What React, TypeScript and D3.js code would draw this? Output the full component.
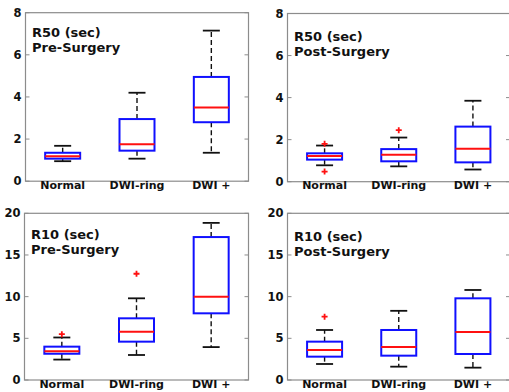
import * as d3 from 'd3';

// categories shared by every panel
const categories = ['Normal', 'DWI-ring', 'DWI +'];

// box stats per category: [lower whisker, Q1, median, Q3, upper whisker]
const r50PreStats = [
  [0.95, 1.07, 1.18, 1.35, 1.68],
  [1.07, 1.45, 1.75, 2.95, 4.2],
  [1.35, 2.8, 3.5, 4.95, 7.15],
];
const r50PreOutliers = [[], [], []];

const r50PostStats = [
  [0.78, 1.05, 1.22, 1.35, 1.72],
  [0.73, 0.97, 1.28, 1.55, 2.1],
  [0.58, 0.92, 1.57, 2.62, 3.85],
];
const r50PostOutliers = [[1.8, 0.48], [2.45], []];

const r10PreStats = [
  [2.45, 3.15, 3.45, 4.0, 5.1],
  [3.0, 4.6, 5.8, 7.4, 9.8],
  [3.95, 8.0, 10.0, 17.15, 18.85],
];
const r10PreOutliers = [[5.5], [12.75], []];

const r10PostStats = [
  [1.92, 2.8, 3.6, 4.6, 6.0],
  [1.6, 2.92, 3.96, 6.0, 8.3],
  [1.48, 3.12, 5.76, 9.8, 10.8],
];
const r10PostOutliers = [[7.6], [], []];

const r50Ticks = [0, 2, 4, 6, 8];
const r10Ticks = [0, 5, 10, 15, 20];

const FONT = 'DejaVu Sans, Verdana, sans-serif';

const panels = [
  { title: ['R50 (sec)', 'Pre-Surgery'], stats: r50PreStats, outliers: r50PreOutliers, ticks: r50Ticks,
    left: 25.5, right: 248.5, top: 12.7, bottom: 181.2, titleDy: 24.5 },
  { title: ['R50 (sec)', 'Post-Surgery'], stats: r50PostStats, outliers: r50PostOutliers, ticks: r50Ticks,
    left: 287.5, right: 510, top: 13.5, bottom: 181.7, titleDy: 27.5 },
  { title: ['R10 (sec)', 'Pre-Surgery'], stats: r10PreStats, outliers: r10PreOutliers, ticks: r10Ticks,
    left: 24.5, right: 248.5, top: 213.3, bottom: 380, titleDy: 25.5 },
  { title: ['R10 (sec)', 'Post-Surgery'], stats: r10PostStats, outliers: r10PostOutliers, ticks: r10Ticks,
    left: 287.5, right: 510, top: 213.3, bottom: 380, titleDy: 27.5 },
];

const BOX_W = 35;
const CAP_W = 17;

function Panel(p: any) {
  const x = d3.scalePoint<string>().domain(categories).range([p.left, p.right]).padding(0.5);
  const y = d3.scaleLinear().domain([0, d3.max(p.ticks) as number]).range([p.bottom, p.top]);

  return (
    <g>
      <rect x={p.left} y={p.top} width={p.right - p.left} height={p.bottom - p.top}
        fill="white" stroke="#8c8c8c" strokeWidth={1.2} />
      {p.ticks.map((t: number) => (
        <g key={t}>
          <line x1={p.left} x2={p.left + 4} y1={y(t)} y2={y(t)} stroke="#8c8c8c" />
          <line x1={p.right - 4} x2={p.right} y1={y(t)} y2={y(t)} stroke="#8c8c8c" />
          <text x={p.left - 4} y={y(t)} dy="0.36em" textAnchor="end" fontSize={11.5}
            fontWeight="bold" fontFamily={FONT} fill="#111">{t}</text>
        </g>
      ))}
      <text x={p.left + 6.5} y={p.top + p.titleDy} fontSize={13} fontWeight="bold" fontFamily={FONT} fill="#111">
        {p.title[0]}
      </text>
      <text x={p.left + 6.5} y={p.top + p.titleDy + 15} fontSize={13} fontWeight="bold" fontFamily={FONT} fill="#111">
        {p.title[1]}
      </text>
      {categories.map((c, i) => {
        const [lo, q1, med, q3, hi] = p.stats[i];
        const cx = x(c) as number;
        return (
          <g key={c}>
            <line x1={cx} x2={cx} y1={y(q3)} y2={y(hi)} stroke="#111" strokeWidth={1.4} strokeDasharray="5,3" />
            <line x1={cx} x2={cx} y1={y(q1)} y2={y(lo)} stroke="#111" strokeWidth={1.4} strokeDasharray="5,3" />
            <line x1={cx - CAP_W / 2} x2={cx + CAP_W / 2} y1={y(hi)} y2={y(hi)} stroke="#111" strokeWidth={1.8} />
            <line x1={cx - CAP_W / 2} x2={cx + CAP_W / 2} y1={y(lo)} y2={y(lo)} stroke="#111" strokeWidth={1.8} />
            <rect x={cx - BOX_W / 2} y={y(q3)} width={BOX_W} height={y(q1) - y(q3)}
              fill="none" stroke="#1010ff" strokeWidth={2} />
            <line x1={cx - BOX_W / 2} x2={cx + BOX_W / 2} y1={y(med)} y2={y(med)} stroke="#ff1010" strokeWidth={2} />
            {p.outliers[i].map((o: number, k: number) => (
              <path key={k} d={`M${cx - 3},${y(o)}h6M${cx},${y(o) - 3}v6`} stroke="#ff1010" strokeWidth={1.8} />
            ))}
            <text x={cx} y={p.bottom + 7.5} textAnchor="middle" fontSize={11} fontWeight="bold"
              fontFamily={FONT} fill="#111">{c}</text>
          </g>
        );
      })}
    </g>
  );
}

export default function App() {
  return (
    <svg width={509} height={392} style={{ position: 'absolute', left: 0, top: 0, background: 'white' }}>
      <rect width={509} height={392} fill="white" />
      {panels.map((p, i) => <Panel key={i} {...p} />)}
    </svg>
  );
}
